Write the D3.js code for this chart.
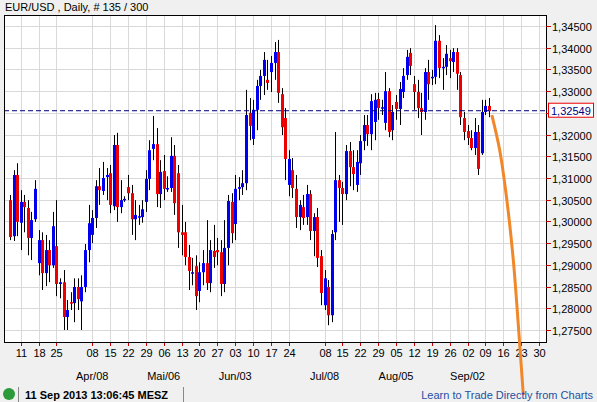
<!DOCTYPE html>
<html><head><meta charset="utf-8">
<script src="https://cdn.jsdelivr.net/npm/d3@7"></script>
<style>body{margin:0;background:#f0f0f0;font-family:"Liberation Sans",Arial,sans-serif}</style>
</head><body><svg id="c" width="597" height="402"></svg>
<script>
// prices in 1/10000 units (e.g. 13049 = 1.3049)
const opens=[13049,12966,13107,12997,13045,13031,12962,13005,12904,12957,12881,12934,12899,12943,12856,12860,12780,12814,12812,12849,12816,12849,12934,12969,13008,13081,13070,13102,13111,13035,13176,13033,13052,13079,13065,13005,13012,13010,13045,13098,13167,13178,13063,13116,13077,13077,13151,13111,12975,12975,12918,12883,12897,12840,12883,12904,12858,12932,12934,12929,12856,12939,13045,12994,13075,13079,13088,13250,13190,13257,13312,13335,13326,13344,13365,13390,13293,13238,13084,13118,13075,13010,13033,13010,13063,12978,13010,12920,12807,12849,12784,12975,13095,13077,13063,13162,13125,13084,13134,13185,13222,13201,13229,13282,13263,13227,13300,13210,13275,13259,13298,13337,13388,13316,13298,13261,13252,13344,13333,13333,13416,13356,13356,13376,13367,13390,13337,13238,13208,13192,13169,13206,13157,13252,13266];
const closes=[12964,13107,12999,13045,13033,12962,13003,13075,12957,12881,12934,12899,12989,12856,12860,12780,12796,12812,12849,12821,12849,12934,12996,13008,13081,13072,13100,13107,13038,13176,13033,13049,13052,13065,13005,13015,13012,13028,13098,13164,13178,13063,13114,13075,13077,13151,13042,12975,12969,12918,12886,12883,12828,12883,12904,12858,12934,12918,12929,12856,12939,13047,12973,13075,13079,13088,13245,13220,13257,13312,13335,13372,13319,13365,13390,13296,13217,13144,13144,13077,13010,13038,13008,13063,12978,13010,12916,12835,12869,12784,12971,13095,13077,13063,13162,13125,13109,13137,13185,13222,13201,13277,13280,13261,13263,13300,13206,13252,13259,13305,13335,13379,13358,13298,13261,13252,13344,13316,13333,13416,13353,13356,13386,13369,13390,13340,13240,13206,13192,13169,13206,13121,13252,13266,13254];
const highs=[13061,13118,13134,13072,13061,13049,13022,13095,12980,12975,12969,12957,13022,13049,12869,12888,12819,12837,12869,12869,12876,12948,13038,13026,13095,13123,13137,13123,13130,13199,13204,13095,13058,13107,13084,13049,13038,13049,13118,13187,13243,13215,13141,13153,13104,13194,13176,13130,13038,12999,12946,12916,12922,12906,12934,13003,12957,12992,12962,12957,13003,13061,13065,13107,13102,13118,13303,13284,13280,13326,13349,13390,13372,13381,13413,13418,13307,13261,13164,13146,13107,13049,13061,13084,13072,13019,13031,12934,12888,12865,12980,13206,13107,13091,13176,13183,13164,13164,13199,13245,13245,13293,13296,13296,13280,13344,13307,13268,13291,13321,13353,13395,13399,13335,13326,13296,13353,13372,13349,13452,13429,13376,13406,13395,13399,13399,13344,13252,13222,13210,13238,13222,13280,13280,13284];
const lows=[12957,12955,12966,12934,12975,12922,12911,12999,12876,12842,12851,12860,12893,12828,12823,12750,12750,12796,12768,12796,12750,12837,12906,12950,12985,13038,13061,13049,13019,13026,12999,13019,13045,13049,12969,12957,12992,12997,13022,13072,13141,13033,13031,13049,13068,13068,13015,12939,12922,12899,12842,12853,12796,12814,12853,12842,12837,12893,12899,12828,12837,12899,12950,12957,13049,13061,13072,13187,13176,13210,13280,13291,13303,13298,13326,13273,13199,13095,13058,13054,12985,12980,12992,12992,12957,12920,12895,12807,12796,12761,12768,12957,12999,12992,13049,13081,13072,13068,13107,13164,13174,13164,13187,13234,13245,13210,13194,13187,13234,13222,13284,13326,13337,13257,13238,13199,13234,13280,13314,13316,13330,13303,13337,13330,13344,13303,13222,13187,13176,13164,13153,13107,13153,13245,13240];
const yTicks=[12750,12800,12850,12900,12950,13000,13050,13100,13150,13200,13250,13300,13350,13400,13450];
const weekLabels=["11","18","25","","08","15","22","29","06","13","20","27","03","10","17","24","","08","15","22","29","05","12","19","26","02","09","16","23","30"];
const monthLabels=[[4,"Apr/08"],[8,"Mai/06"],[12,"Jun/03"],[17,"Jul/08"],[21,"Aug/05"],[25,"Sep/02"]];
const lastPrice=13254.9;
const projIdx=[134.8,137,139,140.8,142.3,143.6];
const projPrice=[13245,13164,13049,12911,12750,12600];

const svg=d3.select("#c");
const L=4,R=546,T=15,B=342;
const x=d3.scaleLinear().domain([0,134]).range([10,489]);
const y=d3.scaleLinear().domain([13450,12750]).range([26,330]);
const firstMon=3;
svg.append("rect").attr("x",L).attr("y",T).attr("width",R-L).attr("height",B-T).attr("fill","#fff");
const g=svg.append("g");
yTicks.forEach(v=>g.append("line").attr("x1",L).attr("x2",R).attr("y1",Math.round(y(v))+.5).attr("y2",Math.round(y(v))+.5).attr("stroke","#d9d9d9"));
weekLabels.forEach((l,i)=>{ if(!l) return; const xx=Math.round(x(firstMon+i*5))+.5;
  g.append("line").attr("x1",xx).attr("x2",xx).attr("y1",T).attr("y2",B).attr("stroke","#d9d9d9");
  g.append("line").attr("x1",xx).attr("x2",xx).attr("y1",B).attr("y2",B+4).attr("stroke","#c00");
  g.append("text").attr("x",xx).attr("y",B+15).attr("text-anchor","middle").attr("font-size",11).attr("fill","#000").text(l);
});
monthLabels.forEach(([i,l])=>g.append("text").attr("x",x(firstMon+i*5)).attr("y",B+38).attr("text-anchor","middle").attr("font-size",11).text(l));
const idx=d3.range(opens.length);
g.selectAll(".w").data(idx).join("line").attr("x1",i=>Math.round(x(i))+.5).attr("x2",i=>Math.round(x(i))+.5)
 .attr("y1",i=>y(highs[i])).attr("y2",i=>y(lows[i])).attr("stroke","#000");
g.selectAll(".b").data(idx).join("rect").attr("x",i=>Math.round(x(i))-1).attr("width",3)
 .attr("y",i=>y(Math.max(opens[i],closes[i]))).attr("height",i=>Math.max(1.5,Math.abs(y(opens[i])-y(closes[i]))))
 .attr("fill",i=>closes[i]>=opens[i]?"#0000ee":"#ee0000");
g.append("line").attr("x1",L).attr("x2",R).attr("y1",y(lastPrice)).attr("y2",y(lastPrice)).attr("stroke","#000080").attr("stroke-dasharray","5,3");
svg.append("rect").attr("x",L+.5).attr("y",T+.5).attr("width",R-L).attr("height",B-T).attr("fill","none").attr("stroke","#000");
yTicks.forEach(v=>{const yy=Math.round(y(v))+.5;
  svg.append("line").attr("x1",R).attr("x2",R+5).attr("y1",yy).attr("y2",yy).attr("stroke","#c00");
  if(v!==13250) svg.append("text").attr("x",R+6).attr("y",yy+4).attr("font-size",11).text(d3.format(".5f")(v/10000).replace(".",","));
});
const ly=y(lastPrice);
svg.append("rect").attr("x",R+2.5).attr("y",ly-7.5).attr("width",45).attr("height",14).attr("fill","#fff").attr("stroke","#e00");
svg.append("text").attr("x",R+5).attr("y",ly+4).attr("font-size",11).attr("fill","#000080").text(d3.format(".5f")(lastPrice/10000).replace(".",","));
svg.append("path").datum(d3.range(projIdx.length)).attr("d",d3.line().x(i=>x(projIdx[i])).y(i=>y(projPrice[i])).curve(d3.curveCatmullRom))
 .attr("fill","none").attr("stroke","#f0882a").attr("stroke-width",3);
svg.append("text").attr("x",5).attr("y",11).attr("font-size",11).text("EUR/USD , Daily, # 135 / 300");
svg.append("circle").attr("cx",9).attr("cy",394).attr("r",6).attr("fill","#2a9a3a");
svg.append("line").attr("x1",18.5).attr("x2",18.5).attr("y1",387).attr("y2",402).attr("stroke","#888");
svg.append("text").attr("x",25).attr("y",399).attr("font-size",11).attr("font-weight","bold").text("11 Sep 2013 13:06:45 MESZ");
svg.append("line").attr("x1",183.5).attr("x2",183.5).attr("y1",387).attr("y2",402).attr("stroke","#888");
svg.append("text").attr("x",593).attr("y",399).attr("font-size",11).attr("text-anchor","end").attr("fill","#1f4fa0").text("Learn to Trade Directly from Charts");
</script></body></html>
